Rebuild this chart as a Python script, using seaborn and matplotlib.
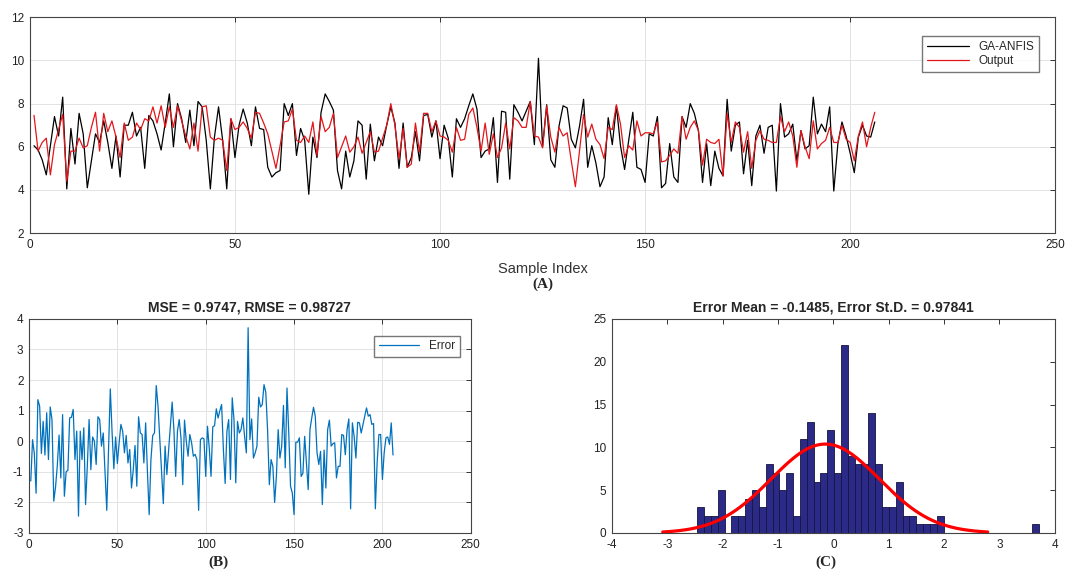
import numpy as np
import pandas as pd
import matplotlib
matplotlib.use("Agg")
import matplotlib.pyplot as plt
import seaborn as sns

# values (samples 1..206)
ga_anfis = [6.05, 5.85, 5.4, 4.7, 6.05, 7.4, 6.5, 8.3, 4.05, 6.85, 5.2, 7.55, 6.6, 4.1, 5.35, 6.6, 6.2, 7.2, 6.2, 5.0,
            6.5, 4.6, 7.0, 7.0, 7.6, 6.5, 6.9, 5.0, 7.45, 7.2, 6.6, 5.85, 7.1, 8.45, 6.0, 8.0, 7.3, 6.2, 7.7, 6.05,
            8.1, 7.85, 6.3, 4.05, 6.45, 7.85, 6.3, 4.05, 7.3, 5.5, 7.0, 7.75,
            7.1, 6.05, 7.85, 6.85, 6.8, 5.05, 4.6, 4.8, 4.9, 8.0, 7.45, 8.0, 5.6, 6.85, 6.3, 3.8, 6.45, 5.5,
            7.6, 8.45, 8.1, 7.7, 4.9, 4.05, 5.8, 4.6, 5.35, 7.2, 7.0, 4.5, 7.05, 5.35, 6.45, 6.05, 7.0, 7.85,
            7.1, 5.0, 7.1, 5.05, 5.5, 6.7, 5.35, 7.45, 7.5, 6.45, 7.2, 5.45, 7.0,
            6.4, 4.6, 7.3, 6.9, 7.3, 7.9, 8.45, 7.75, 5.5, 5.8, 5.9, 7.35, 4.35, 7.65, 7.6, 4.5, 7.95, 7.6,
            7.2, 7.65, 8.1, 6.1, 10.1, 6.0, 7.95, 5.4, 5.05, 6.95, 7.9, 7.8, 6.35, 5.95, 6.95, 8.2, 5.05, 6.05,
            5.25, 4.15, 4.6, 7.35, 6.1, 7.9, 6.05, 4.95, 6.3, 7.6, 5.05, 4.95, 4.35, 6.6, 6.5,
            7.4, 4.1, 4.3, 6.15, 4.6, 4.35, 7.4, 6.9, 8.0, 7.55, 6.75, 4.35, 6.15, 4.2, 5.8, 5.0, 4.65, 8.2,
            5.8, 7.0, 7.15, 4.75, 6.3, 4.2, 6.5, 7.0, 5.7, 6.9, 7.0, 3.95, 8.0, 6.45, 6.6, 7.05, 5.35, 6.75,
            5.9, 6.05, 8.3, 6.6, 7.05, 6.7, 7.85, 3.95, 6.15, 7.15, 6.5, 5.7, 4.8, 6.45, 7.0, 6.5, 6.45, 7.15]

output = [7.46, 5.8, 6.2, 6.4, 4.7, 6.1, 6.8, 7.5, 4.4, 5.8, 5.8, 6.4, 5.95, 6.05, 6.9, 7.6, 5.8, 7.55, 6.7, 7.2,
          6.45, 5.5, 7.1, 6.3, 6.45, 7.1, 6.8, 7.3, 7.2, 7.85, 7.1, 7.9, 6.9, 7.85, 6.9, 7.9, 7.2, 6.5, 5.9, 7.1,
          5.8, 7.85, 7.9, 6.45, 6.3, 6.4, 6.3, 4.9, 7.3, 6.8, 6.9, 7.15,
          6.85, 6.4, 7.6, 7.55, 7.1, 6.6, 5.8, 5.0, 6.05, 7.15, 7.2, 7.75, 6.3, 6.2, 6.5, 6.2, 7.15, 5.6,
          7.4, 6.7, 6.9, 7.55, 5.5, 6.0, 6.5, 5.75, 6.0, 6.45, 5.7, 6.2, 6.7, 5.75, 5.8, 6.4, 7.0, 8.0,
          7.0, 5.45, 6.85, 5.05, 5.2, 7.1, 5.75, 7.55, 7.55, 6.7, 7.2, 6.5, 6.45,
          6.3, 5.75, 6.9, 6.3, 6.35, 7.5, 7.8, 6.9, 5.8, 7.1, 5.65, 6.6, 5.5, 5.95, 7.1, 5.9, 7.35, 7.2,
          6.9, 6.9, 8.1, 6.5, 6.45, 5.95, 7.9, 6.45, 5.75, 6.9, 6.5, 6.65, 5.35, 4.15, 5.8, 7.5, 6.45, 7.05,
          6.35, 6.1, 5.45, 6.9, 6.8, 7.95, 7.05, 5.5, 6.05, 5.85, 7.2, 6.5, 6.65, 6.65, 6.6,
          7.15, 5.3, 5.35, 5.6, 5.9, 5.7, 7.4, 6.35, 6.9, 7.2, 6.75, 5.15, 6.35, 6.2, 6.15, 6.35, 4.65, 7.55,
          6.2, 7.15, 6.9, 5.75, 6.7, 5.0, 6.3, 6.75, 6.35, 6.3, 6.2, 6.2, 7.4, 6.7, 7.15, 6.5, 5.05, 6.75,
          6.0, 5.45, 7.2, 5.9, 6.15, 6.3, 6.9, 6.2, 6.2, 7.0, 6.35, 6.2, 5.35, 6.5, 7.15, 6.0, 6.9, 7.6]

# prediction error as drawn in panel (B)
error = [-1.3, 0.05, -0.4, -1.7, 1.36, 1.15, -0.4, 0.65, -0.45, 0.93, -0.6, 1.12, 0.7, -1.96, -1.5, -0.8,
         0.2, -1.2, 0.87, -1.8, -1.0, -0.95, 0.76, 0.78, 1.04, -0.6, 0.33, -2.45, 0.33, -0.6, 0.44, -2.07,
         -0.8, 0.71, -0.93, 0.14, 0.0, -0.76, 0.8, 0.71, -0.16, 0.27, -1.0, -2.26, -0.3, 1.71, 0.3, -0.9,
         0.14, -0.73, -0.05, 0.55, 0.33, -0.38, 0.19, -0.71, -0.27, -1.53, -0.93, -0.14, -1.47, 0.8, 0.27,
         0.22, -0.71, 0.6, -0.98, -2.4, -0.6, 0.19, 0.27, 1.82, 1.15, 0.1, -0.93, -2.04, -0.16, -1.09,
         -0.27, 0.5, 1.28, 0.38, -1.15, 0.33, 0.71, 0.11, -1.42, 0.69, 0.0, -0.49, 0.22, -0.05, -0.49,
         -0.43, -0.6, -2.26, 0.05, 0.11, 0.08, -1.15, 0.49, -0.22, -1.15, 0.47, 0.51, 1.06, 0.76, 1.0, 1.2,
         -0.27, -1.38, 0.33, 0.71, -1.25, 1.42, 0.7, -1.36, 0.65, 0.27, 0.38, 0.76, 0.16, -0.38, 3.71,
         0.05, 0.73, -0.55, -0.38, -0.16, 1.44, 1.12, 1.2, 1.85, 1.6, 0.38, -1.42, -0.6, -0.82, -2.0,
         -1.15, 0.38, -0.55, -0.16, 1.17, -0.87, 1.74, 0.27, -1.47, -1.69, -2.4, -0.03, -0.03, 0.11,
         -1.15, -1.05, 0.16, -0.71, -1.58, 0.38, 0.76, 1.11, 0.82, -0.38, -0.76, -0.33, -2.07, -0.29,
         -1.53, 0.38, 0.69, -0.16, -0.08, -0.05, -1.2, -0.82, -0.82, 0.22, 0.19, -0.44, 0.38, 0.73,
         -2.21, 0.6, 0.16, -0.55, 0.62, 0.6, 0.27, 0.55, 0.82, 1.09, 0.82, 0.87, 0.55, 0.58, -2.21, -0.71,
         0.22, 0.22, -1.25, -0.38, 0.11, 0.14, -0.1, 0.6, -0.45]

sample_index = np.arange(1, len(ga_anfis) + 1)

# histogram of the error (50 bins between the smallest and largest error)
hist_counts = [3, 2, 2, 5, 0, 2, 2, 4, 5, 3, 8, 7, 5, 7, 2, 11, 13, 6, 7, 12,
               7, 22, 9, 8, 8, 14, 8, 3, 3, 6, 2, 2, 1, 1, 1, 2, 0, 0, 0, 0,
               0, 0, 0, 0, 0, 0, 0, 0, 0, 1]
err_min, err_max = -2.46, 3.72
err_mean, err_std = -0.1485, 0.97841
mse, rmse = 0.9747, 0.98727

sns.set_style("white")
plt.rcParams['font.family'] = ['Liberation Sans', 'DejaVu Sans']
plt.rcParams['axes.unicode_minus'] = False


def matlab_look(ax, grid=True):
    if grid:
        ax.grid(True, color='#e3e3e3', lw=0.7)
    else:
        ax.grid(False)
    ax.set_axisbelow(True)
    ax.tick_params(direction='in', top=True, right=True, length=3.5, width=0.7,
                   labelsize=8.5, color='#333333', labelcolor='#222222', pad=4)
    for s in ax.spines.values():
        s.set_color('#444444')
        s.set_linewidth(0.8)


fig = plt.figure(figsize=(10.67, 5.77), dpi=100)

# (A) target vs output
ax_a = fig.add_axes([0.028, 0.596, 0.961, 0.374])
sns.lineplot(x=sample_index, y=ga_anfis, ax=ax_a, color='black', lw=0.9, label='GA-ANFIS')
sns.lineplot(x=sample_index, y=output, ax=ax_a, color='#e3161b', lw=0.9, label='Output')
ax_a.set_xlim(0, 250)
ax_a.set_ylim(2, 12)
ax_a.set_xticks(range(0, 251, 50))
ax_a.set_yticks(range(2, 13, 2))
matlab_look(ax_a)
ax_a.set_xlabel('Sample Index', fontsize=10.5, color='#333333', labelpad=8)
ax_a.legend(loc='upper right', bbox_to_anchor=(0.99, 0.94), fontsize=8.5, frameon=True,
            fancybox=False, edgecolor='#555555', handlelength=3.6, borderpad=0.4,
            labelspacing=0.2)

# (B) error over samples
ax_b = fig.add_axes([0.0272, 0.0763, 0.414, 0.371])
sns.lineplot(x=sample_index, y=error, ax=ax_b, color='#0072BD', lw=0.9, label='Error')
ax_b.set_xlim(0, 250)
ax_b.set_ylim(-3, 4)
ax_b.set_xticks(range(0, 251, 50))
ax_b.set_yticks(range(-3, 5))
matlab_look(ax_b)
ax_b.set_title(f'MSE = {mse}, RMSE = {rmse}', fontsize=10, fontweight='bold', pad=5)
ax_b.legend(loc='upper right', bbox_to_anchor=(0.988, 0.95), fontsize=8.5, frameon=True,
            fancybox=False, edgecolor='#555555', handlelength=3.4, borderpad=0.4)

# (C) error histogram with normal fit
ax_c = fig.add_axes([0.5736, 0.0763, 0.415, 0.371])
edges = np.linspace(err_min, err_max, len(hist_counts) + 1)
hist_df = pd.DataFrame({'err': (edges[:-1] + edges[1:]) / 2, 'count': hist_counts})
sns.histplot(data=hist_df, x='err', weights='count', bins=list(edges), ax=ax_c, color='#2c2a87',
             edgecolor='#15143f', linewidth=0.6, alpha=1)
xs = np.linspace(err_mean - 3 * err_std, err_mean + 3 * err_std, 300)
bw = edges[1] - edges[0]
ys = len(ga_anfis) * bw * np.exp(-0.5 * ((xs - err_mean) / err_std) ** 2) / (err_std * np.sqrt(2 * np.pi))
sns.lineplot(x=xs, y=ys, ax=ax_c, color='#ff0000', lw=2.3)
ax_c.set_xlim(-4, 4)
ax_c.set_ylim(0, 25)
ax_c.set_xticks(range(-4, 5))
ax_c.set_yticks(range(0, 26, 5))
ax_c.set_xlabel('')
ax_c.set_ylabel('')
matlab_look(ax_c, grid=False)
ax_c.set_title(f'Error Mean = {err_mean}, Error St.D. = {err_std}', fontsize=10,
               fontweight='bold', pad=5)

# panel letters
serif = ['Liberation Serif', 'DejaVu Serif']
fig.text(0.509, 0.508, '(A)', ha='center', va='center', fontsize=11, fontweight='bold', family=serif)
fig.text(0.205, 0.025, '(B)', ha='center', va='center', fontsize=11, fontweight='bold', family=serif)
fig.text(0.774, 0.025, '(C)', ha='center', va='center', fontsize=11, fontweight='bold', family=serif)

fig.savefig('out.png', dpi=100)
